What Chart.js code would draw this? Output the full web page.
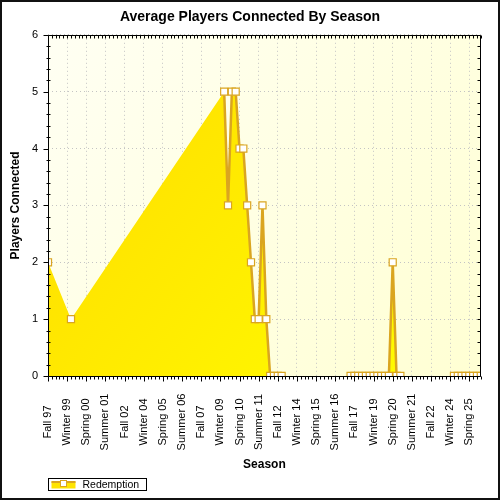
<!DOCTYPE html>
<html>
<head>
<meta charset="utf-8">
<script src="https://cdn.jsdelivr.net/npm/chart.js@4.4.1/dist/chart.umd.min.js"></script>
<style>
  html, body { margin: 0; padding: 0; background: #fff; }
  canvas { display: block; }
</style>
</head>
<body>
<canvas id="c" width="500" height="500"></canvas>
<script>
// ---------------- data ----------------
const chartTitle = 'Average Players Connected By Season';
const xAxisTitle = 'Season';
const yAxisTitle = 'Players Connected';
const seriesName = 'Redemption';

const seasons = [
  'Fall 97',
  'Winter 98', 'Spring 98', 'Summer 98', 'Fall 98',
  'Winter 99', 'Spring 99', 'Summer 99', 'Fall 99',
  'Winter 00', 'Spring 00', 'Summer 00', 'Fall 00',
  'Winter 01', 'Spring 01', 'Summer 01', 'Fall 01',
  'Winter 02', 'Spring 02', 'Summer 02', 'Fall 02',
  'Winter 03', 'Spring 03', 'Summer 03', 'Fall 03',
  'Winter 04', 'Spring 04', 'Summer 04', 'Fall 04',
  'Winter 05', 'Spring 05', 'Summer 05', 'Fall 05',
  'Winter 06', 'Spring 06', 'Summer 06', 'Fall 06',
  'Winter 07', 'Spring 07', 'Summer 07', 'Fall 07',
  'Winter 08', 'Spring 08', 'Summer 08', 'Fall 08',
  'Winter 09', 'Spring 09', 'Summer 09', 'Fall 09',
  'Winter 10', 'Spring 10', 'Summer 10', 'Fall 10',
  'Winter 11', 'Spring 11', 'Summer 11', 'Fall 11',
  'Winter 12', 'Spring 12', 'Summer 12', 'Fall 12',
  'Winter 13', 'Spring 13', 'Summer 13', 'Fall 13',
  'Winter 14', 'Spring 14', 'Summer 14', 'Fall 14',
  'Winter 15', 'Spring 15', 'Summer 15', 'Fall 15',
  'Winter 16', 'Spring 16', 'Summer 16', 'Fall 16',
  'Winter 17', 'Spring 17', 'Summer 17', 'Fall 17',
  'Winter 18', 'Spring 18', 'Summer 18', 'Fall 18',
  'Winter 19', 'Spring 19', 'Summer 19', 'Fall 19',
  'Winter 20', 'Spring 20', 'Summer 20', 'Fall 20',
  'Winter 21', 'Spring 21', 'Summer 21', 'Fall 21',
  'Winter 22', 'Spring 22', 'Summer 22', 'Fall 22',
  'Winter 23', 'Spring 23', 'Summer 23', 'Fall 23',
  'Winter 24', 'Spring 24', 'Summer 24', 'Fall 24',
  'Winter 25', 'Spring 25', 'Summer 25', 'Fall 25',
  'Winter 26'
];

// one value per season above; null = no data for that season
const redemption = [
  2,
  null, null, null, null,   // 98
  null, 1,    null, null,   // 99
  null, null, null, null,   // 00
  null, null, null, null,   // 01
  null, null, null, null,   // 02
  null, null, null, null,   // 03
  null, null, null, null,   // 04
  null, null, null, null,   // 05
  null, null, null, null,   // 06
  null, null, null, null,   // 07
  null, null, null, null,   // 08
  null, 5,    3,    5,      // 09
  5,    4,    4,    3,      // 10
  2,    1,    1,    3,      // 11
  1,    0,    0,    0,      // 12
  0,    null, null, null,   // 13
  null, null, null, null,   // 14
  null, null, null, null,   // 15
  null, null, null, null,   // 16
  null, null, 0,    0,      // 17
  0,    0,    0,    0,      // 18
  0,    0,    0,    0,      // 19
  0,    2,    0,    0,      // 20
  null, null, null, null,   // 21
  null, null, null, null,   // 22
  null, null, null, null,   // 23
  null, 0,    0,    0,      // 24
  0,    0,    0,    0,      // 25
  0                         // 26
];

const yMin = 0;
const yMax = 6;
const labelEvery = 5;

// ---------------- style ----------------
const FONT = "'Liberation Sans', Arial, Helvetica, sans-serif";
const LINE_COLOR = '#DAA520';
const LABEL_CENTER = 46;

Chart.defaults.font.family = FONT;
Chart.defaults.color = '#000';

const decoPlugin = {
  id: 'deco',
  beforeDraw(chart) {
    const { ctx, chartArea: a } = chart;
    ctx.save();
    ctx.fillStyle = '#fff';
    ctx.fillRect(0, 0, chart.width, chart.height);
    const g = ctx.createLinearGradient(a.left, a.top, a.right, a.bottom);
    g.addColorStop(0, '#FFFFF3');
    g.addColorStop(1, '#FFFFD3');
    ctx.fillStyle = g;
    ctx.fillRect(a.left, a.top, a.right - a.left, a.bottom - a.top);
    ctx.restore();
    // centre the rotated category labels in the label band
    const xs = chart.scales.x;
    const items = xs.getLabelItems(a);
    for (const it of items) {
      it.options.textAlign = 'center';
      it.options.translation[1] = xs.top + LABEL_CENTER;
    }
  },
  afterDatasetsDraw(chart) {
    const { ctx, chartArea: a, scales: { x, y } } = chart;
    const L = Math.round(a.left) + 0.5, R = Math.round(a.right) - 0.5;
    const T = Math.round(a.top) + 0.5, B = Math.round(a.bottom) + 0.5;
    ctx.save();
    ctx.strokeStyle = '#000';
    ctx.lineWidth = 1;
    ctx.beginPath();
    ctx.rect(L, T, R - L, B - T);
    const n = chart.data.labels.length;
    for (let i = 0; i < n; i++) {
      const px = Math.round(x.getPixelForValue(i)) + 0.5;
      const major = i % labelEvery === 0;
      ctx.moveTo(px, B); ctx.lineTo(px, B + (major ? 5 : 3));
      ctx.moveTo(px, T); ctx.lineTo(px, T + 3);
    }
    for (let k = y.min * 5; k <= y.max * 5; k++) {
      const py = Math.round(y.getPixelForValue(k / 5)) + 0.5;
      if (k % 5 === 0) { ctx.moveTo(L - 5, py); ctx.lineTo(L, py); }
      else { ctx.moveTo(L - 2, py); ctx.lineTo(L + 2, py); }
      ctx.moveTo(R, py); ctx.lineTo(R - 3, py);
    }
    ctx.stroke();
    ctx.restore();
  },
  afterDraw(chart) {
    const { ctx, chartArea: a } = chart;
    ctx.save();
    // legend box
    const lx = Math.round(a.left) + 0.5, ly = chart.height - 21.5, lw = 98, lh = 12;
    ctx.fillStyle = '#fff';
    ctx.fillRect(lx, ly, lw, lh);
    ctx.strokeStyle = '#000';
    ctx.lineWidth = 1;
    ctx.strokeRect(lx, ly, lw, lh);
    // symbol
    ctx.fillStyle = '#FFE400';
    ctx.fillRect(lx + 3, ly + 3, 24, 7);
    ctx.strokeStyle = LINE_COLOR;
    ctx.lineWidth = 2;
    ctx.beginPath();
    ctx.moveTo(lx + 3, ly + 3.5);
    ctx.lineTo(lx + 27, ly + 3.5);
    ctx.stroke();
    ctx.fillStyle = '#fff';
    ctx.lineWidth = 1;
    ctx.fillRect(lx + 12, ly + 2, 6, 6);
    ctx.strokeRect(lx + 12, ly + 2, 6, 6);
    // text
    ctx.fillStyle = '#000';
    ctx.font = '10.5px ' + FONT;
    ctx.textBaseline = 'middle';
    ctx.textAlign = 'left';
    ctx.fillText(seriesName, lx + 34, ly + lh / 2 + 0.5);
    // outer frame
    ctx.strokeStyle = '#111';
    ctx.lineWidth = 2;
    ctx.strokeRect(1, 1, chart.width - 2, chart.height - 2);
    ctx.restore();
  }
};

new Chart(document.getElementById('c'), {
  type: 'line',
  data: {
    labels: seasons,
    datasets: [{
      // border line + markers: only between consecutive seasons with data (drawn on top)
      label: seriesName,
      data: redemption,
      spanGaps: false,
      fill: false,
      clip: 0,
      borderColor: LINE_COLOR,
      borderWidth: 2.5,
      tension: 0,
      pointStyle: 'rect',
      pointRadius: 5,
      pointBackgroundColor: '#fff',
      pointBorderColor: LINE_COLOR,
      pointBorderWidth: 1.2
    }, {
      // area: interpolated across seasons without data (drawn underneath)
      label: seriesName + ' area',
      data: redemption,
      spanGaps: true,
      fill: 'origin',
      clip: 0,
      borderWidth: 0,
      borderColor: 'rgba(0,0,0,0)',
      pointRadius: 0,
      tension: 0,
      backgroundColor: (ctx) => {
        const a = ctx.chart.chartArea;
        if (!a) return '#FFE800';
        const g = ctx.chart.ctx.createLinearGradient(a.left, a.top, a.right, a.bottom);
        g.addColorStop(0, '#FFDA00');
        g.addColorStop(1, '#FFFF00');
        return g;
      }
    }]
  },
  options: {
    responsive: false,
    animation: false,
    events: [],
    layout: { padding: { left: 15, right: 15, top: 0, bottom: 25 } },
    plugins: {
      legend: { display: false },
      tooltip: { enabled: false },
      title: {
        display: true,
        text: chartTitle,
        color: '#000',
        font: { size: 14, weight: 'bold' },
        padding: { top: 9, bottom: 9 }
      }
    },
    scales: {
      x: {
        type: 'category',
        offset: false,
        grid: {
          drawTicks: false,
          color: (ctx) => (ctx.index % labelEvery === 0) ? '#C4C4C4' : 'rgba(0,0,0,0)',
          lineWidth: 1
        },
        border: { display: false, dash: [1, 3] },
        ticks: {
          autoSkip: false,
          maxRotation: 90,
          minRotation: 90,
          padding: 6,
          color: '#000',
          font: { size: 11 },
          callback: function (val, i) { return i % labelEvery === 0 ? this.getLabelForValue(val) : ''; }
        },
        title: {
          display: true,
          text: xAxisTitle,
          color: '#000',
          font: { size: 12, weight: 'bold' },
          padding: { top: 0, bottom: 3 }
        },
        afterFit: (s) => { s.height = 99; }
      },
      y: {
        min: yMin,
        max: yMax,
        grid: { drawTicks: false, color: '#C4C4C4', lineWidth: 1 },
        border: { display: false, dash: [1, 3] },
        ticks: { stepSize: 1, padding: 10, color: '#000', font: { size: 11 } },
        title: {
          display: true,
          text: yAxisTitle,
          color: '#000',
          font: { size: 12, weight: 'bold' },
          padding: { top: -7, bottom: 0 }
        },
        afterFit: (s) => { s.width = 33; }
      }
    }
  },
  plugins: [decoPlugin]
});
</script>
</body>
</html>
